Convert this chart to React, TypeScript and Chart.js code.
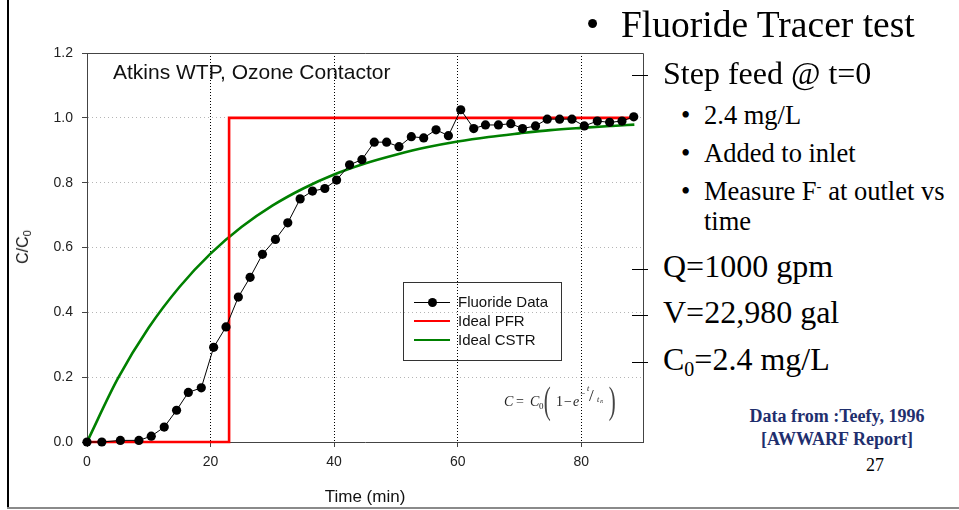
import React, { useEffect, useRef } from "react";
import { Chart, registerables } from "chart.js";

Chart.register(...registerables);

// ---- data ----
const DATA_TIME = [0, 2.4, 5.4, 8.4, 10.4, 12.5, 14.5, 16.4, 18.5, 20.5, 22.5, 24.5, 26.4, 28.4, 30.5, 32.5, 34.5, 36.5, 38.5, 40.4, 42.5, 44.5, 46.5, 48.5, 50.5, 52.5, 54.5, 56.5, 58.5, 60.5, 62.6, 64.5, 66.6, 68.6, 70.5, 72.6, 74.5, 76.5, 78.5, 80.5, 82.6, 84.6, 86.6, 88.5];
const DATA_CONC = [0, 0, 0.005, 0.005, 0.018, 0.046, 0.098, 0.153, 0.167, 0.292, 0.355, 0.447, 0.508, 0.579, 0.625, 0.676, 0.75, 0.774, 0.782, 0.808, 0.855, 0.871, 0.925, 0.925, 0.911, 0.942, 0.938, 0.963, 0.945, 1.025, 0.967, 0.978, 0.978, 0.982, 0.967, 0.975, 0.996, 0.996, 0.996, 0.975, 0.99, 0.986, 0.99, 1.003];

const PFR_TIME = [0, 23, 23, 88.6];
const PFR_CONC = [0, 0, 1, 1];

const CSTR_TIME = [0, 5, 10, 15, 20, 25, 30, 35, 40, 45, 50, 55, 60, 65, 70, 75, 80, 85, 88.6];
const CSTR_CONC = [0, 0.196, 0.353, 0.479, 0.581, 0.663, 0.729, 0.782, 0.825, 0.859, 0.886, 0.909, 0.927, 0.941, 0.952, 0.962, 0.969, 0.975, 0.979];

const X_TICKS = [0, 20, 40, 60, 80];
const Y_TICKS = [0, 0.2, 0.4, 0.6, 0.8, 1.0, 1.2];

const SERIES_NAMES = ["Fluoride Data", "Ideal PFR", "Ideal CSTR"];
const SERIES_COLORS = ["#000000", "#ff0000", "#008000"];

const SANS = "'Liberation Sans', Arial, sans-serif";
const SERIF = "'Liberation Serif', 'Times New Roman', serif";

const framePlugin = {
  id: "frame",
  beforeDatasetsDraw(chart: any) {
    const { ctx, chartArea } = chart;
    ctx.save();
    ctx.strokeStyle = "#444";
    ctx.lineWidth = 1;
    ctx.beginPath();
    const t = Math.round(chartArea.top) + 0.5;
    const r = Math.round(chartArea.right) + 0.5;
    ctx.moveTo(chartArea.left, t);
    ctx.lineTo(r, t);
    ctx.lineTo(r, chartArea.bottom);
    ctx.stroke();
    ctx.restore();
  },
};

function abs(left: number, top: number, extra: any = {}): React.CSSProperties {
  return { position: "absolute", left, top, whiteSpace: "nowrap", ...extra };
}

export default function App() {
  const ref = useRef<HTMLCanvasElement>(null);

  useEffect(() => {
    if (!ref.current) return;
    const chart = new Chart(ref.current, {
      type: "line",
      data: {
        datasets: [
          {
            label: SERIES_NAMES[0],
            data: DATA_TIME.map((t, i) => ({ x: t, y: DATA_CONC[i] })),
            borderColor: SERIES_COLORS[0],
            backgroundColor: SERIES_COLORS[0],
            borderWidth: 1,
            pointRadius: 4.6,
            pointBorderWidth: 0,
            pointBackgroundColor: SERIES_COLORS[0],
            tension: 0,
            clip: false,
          },
          {
            label: SERIES_NAMES[1],
            data: PFR_TIME.map((t, i) => ({ x: t, y: PFR_CONC[i] })),
            borderColor: SERIES_COLORS[1],
            borderWidth: 2.6,
            pointRadius: 0,
            tension: 0,
            clip: false,
          },
          {
            label: SERIES_NAMES[2],
            data: CSTR_TIME.map((t, i) => ({ x: t, y: CSTR_CONC[i] })),
            borderColor: SERIES_COLORS[2],
            borderWidth: 2.6,
            pointRadius: 0,
            cubicInterpolationMode: "monotone",
            clip: false,
          },
        ],
      },
      options: {
        responsive: false,
        animation: false,
        events: [],
        layout: { padding: { top: 53, right: 17, left: 0, bottom: 0 } },
        plugins: { legend: { display: false }, tooltip: { enabled: false } },
        scales: {
          x: {
            type: "linear",
            min: 0,
            max: 90,
            afterBuildTicks: (s: any) => {
              s.ticks = X_TICKS.map((v) => ({ value: v }));
            },
            afterFit: (s: any) => {
              s.height = 68;
            },
            ticks: {
              font: { family: SANS, size: 14 },
              color: "#222",
              padding: 7,
              maxRotation: 0,
              autoSkip: false,
              callback: (v: any) => String(v),
            },
            grid: {
              color: (c: any) => (c.tick && c.tick.value === 0 ? "rgba(0,0,0,0)" : "#000"),
              lineWidth: 1,
              tickLength: 5,
              tickColor: "#444",
              tickWidth: 1,
            },
            border: { display: true, color: "#444", width: 1, dash: [1, 2] },
          },
          y: {
            type: "linear",
            min: 0,
            max: 1.2,
            afterBuildTicks: (s: any) => {
              s.ticks = Y_TICKS.map((v) => ({ value: v }));
            },
            afterFit: (s: any) => {
              s.width = 87;
            },
            ticks: {
              font: { family: SANS, size: 14 },
              color: "#222",
              padding: 9,
              callback: (v: any) => Number(v).toFixed(1),
            },
            grid: {
              color: (c: any) =>
                c.tick && (c.tick.value === 0 || c.tick.value > 1.19) ? "rgba(0,0,0,0)" : "#b5b5b5",
              lineWidth: 1,
              tickLength: 5,
              tickColor: "#444",
              tickWidth: 1,
            },
            border: { display: true, color: "#444", width: 1, dash: [1, 3] },
          },
        },
      } as any,
      plugins: [framePlugin],
    });
    return () => chart.destroy();
  }, []);

  const subBullet = (top: number, text: React.ReactNode) => (
    <>
      <span style={abs(681, top, { fontSize: 26.5, lineHeight: "26px" })}>•</span>
      <span style={abs(704, top, { fontSize: 26.5, lineHeight: "26px" })}>{text}</span>
    </>
  );

  return (
    <div
      style={{
        position: "fixed",
        left: 0,
        top: 0,
        width: 959,
        height: 510,
        background: "#fff",
        overflow: "hidden",
        fontFamily: SERIF,
        color: "#000",
      }}
    >
      <canvas ref={ref} width={660} height={510} style={{ position: "absolute", left: 0, top: 0 }} />

      {/* slide frame */}
      <div style={{ position: "absolute", left: 7, top: 0, width: 2, height: 509, background: "#000" }} />
      <div style={{ position: "absolute", left: 7, top: 507, width: 952, height: 2, background: "#8a8a8a" }} />

      {/* in-plot title */}
      <div style={abs(113, 61, { fontFamily: SANS, fontSize: 21, lineHeight: "21px", color: "#111" })}>
        Atkins WTP, Ozone Contactor
      </div>

      {/* y axis title */}
      <div
        style={{
          position: "absolute",
          left: 23,
          top: 247,
          transform: "translate(-50%, -50%) rotate(-90deg)",
          fontFamily: SANS,
          fontSize: 16,
          lineHeight: "16px",
          whiteSpace: "nowrap",
          color: "#111",
        }}
      >
        C/C<sub style={{ fontSize: 11, verticalAlign: "-3px", lineHeight: 0 }}>0</sub>
      </div>

      {/* x axis title */}
      <div
        style={{
          position: "absolute",
          left: 365,
          top: 488,
          transform: "translateX(-50%)",
          fontFamily: SANS,
          fontSize: 17,
          lineHeight: "18px",
          whiteSpace: "nowrap",
          color: "#111",
        }}
      >
        Time (min)
      </div>

      {/* legend */}
      <div
        style={{
          position: "absolute",
          left: 403,
          top: 282,
          width: 157,
          height: 77,
          border: "1px solid #333",
          fontFamily: SANS,
          fontSize: 15,
          color: "#111",
        }}
      >
        {SERIES_NAMES.map((name, i) => (
          <React.Fragment key={name}>
            <div
              style={{
                position: "absolute",
                left: 10,
                top: 19 + i * 19 - (i === 0 ? 0.5 : 1.3),
                width: 36,
                height: i === 0 ? 1 : 2.6,
                background: SERIES_COLORS[i],
              }}
            />
            {i === 0 && (
              <div
                style={{
                  position: "absolute",
                  left: 24,
                  top: 14.5,
                  width: 9,
                  height: 9,
                  borderRadius: "50%",
                  background: "#000",
                }}
              />
            )}
            <div style={abs(54, 11 + i * 19, { lineHeight: "16px" })}>{name}</div>
          </React.Fragment>
        ))}
      </div>

      {/* formula */}
      <div style={{ position: "absolute", left: 0, top: 0, fontFamily: SERIF, color: "#222" }}>
        <span style={abs(504, 395, { fontSize: 14, lineHeight: "14px", fontStyle: "italic" })}>C</span>
        <span style={abs(516, 395, { fontSize: 14, lineHeight: "14px" })}>=</span>
        <span style={abs(530, 395, { fontSize: 14, lineHeight: "14px", fontStyle: "italic" })}>C</span>
        <span style={abs(539, 402, { fontSize: 9, lineHeight: "9px" })}>0</span>
        <span style={abs(541, 381, { fontSize: 38, lineHeight: "38px", fontWeight: 100, transform: "scaleX(0.55)", color: "#444" })}>(</span>
        <span style={abs(556, 395, { fontSize: 14, lineHeight: "14px" })}>1</span>
        <span style={abs(564, 395, { fontSize: 14, lineHeight: "14px" })}>−</span>
        <span style={abs(573, 395, { fontSize: 14, lineHeight: "14px", fontStyle: "italic" })}>e</span>
        <span style={abs(580, 389, { fontSize: 9, lineHeight: "9px" })}>−</span>
        <span style={abs(587, 385, { fontSize: 8, lineHeight: "8px", fontStyle: "italic" })}>t</span>
        <span style={abs(589, 387, { fontSize: 17, lineHeight: "17px" })}>/</span>
        <span style={abs(597, 396, { fontSize: 8, lineHeight: "8px", fontStyle: "italic" })}>t</span>
        <span style={abs(600, 399, { fontSize: 5, lineHeight: "5px", fontStyle: "italic" })}>R</span>
        <span style={abs(606, 381, { fontSize: 38, lineHeight: "38px", fontWeight: 100, transform: "scaleX(0.55)", color: "#444" })}>)</span>
      </div>

      {/* right side tick marks */}
      {[75, 269, 315, 362].map((y) => (
        <div key={y} style={{ position: "absolute", left: 632, top: y, width: 16, height: 1, background: "#000" }} />
      ))}

      {/* slide text */}
      <span style={abs(586, 6, { fontSize: 37.5, lineHeight: "37px" })}>•</span>
      <span style={abs(621, 6, { fontSize: 37.5, lineHeight: "37px" })}>Fluoride Tracer test</span>

      <span style={abs(663, 56.5, { fontSize: 32, lineHeight: "32px" })}>Step feed @ t=0</span>
      {subBullet(101.5, "2.4 mg/L")}
      {subBullet(140, "Added to inlet")}
      {subBullet(178.2, (
        <>
          Measure F<sup style={{ fontSize: 15, lineHeight: 0, verticalAlign: "9px" }}>-</sup> at outlet vs
        </>
      ))}
      <span style={abs(704, 208.2, { fontSize: 26.5, lineHeight: "26px" })}>time</span>

      <span style={abs(663, 250, { fontSize: 32, lineHeight: "32px" })}>Q=1000 gpm</span>
      <span style={abs(663, 296, { fontSize: 32, lineHeight: "32px" })}>V=22,980 gal</span>
      <span style={abs(663, 342.5, { fontSize: 32, lineHeight: "32px" })}>
        C<sub style={{ fontSize: 20, lineHeight: 0, verticalAlign: "-6px" }}>0</sub>=2.4 mg/L
      </span>

      <div
        style={{
          position: "absolute",
          left: 837,
          top: 405,
          transform: "translateX(-50%)",
          textAlign: "center",
          fontSize: 18,
          lineHeight: "22.7px",
          fontWeight: "bold",
          color: "#1f2f6e",
          whiteSpace: "nowrap",
        }}
      >
        Data from :Teefy, 1996
        <br />
        [AWWARF Report]
      </div>

      <span style={abs(866, 455.6, { fontSize: 18, lineHeight: "18px" })}>27</span>
    </div>
  );
}
